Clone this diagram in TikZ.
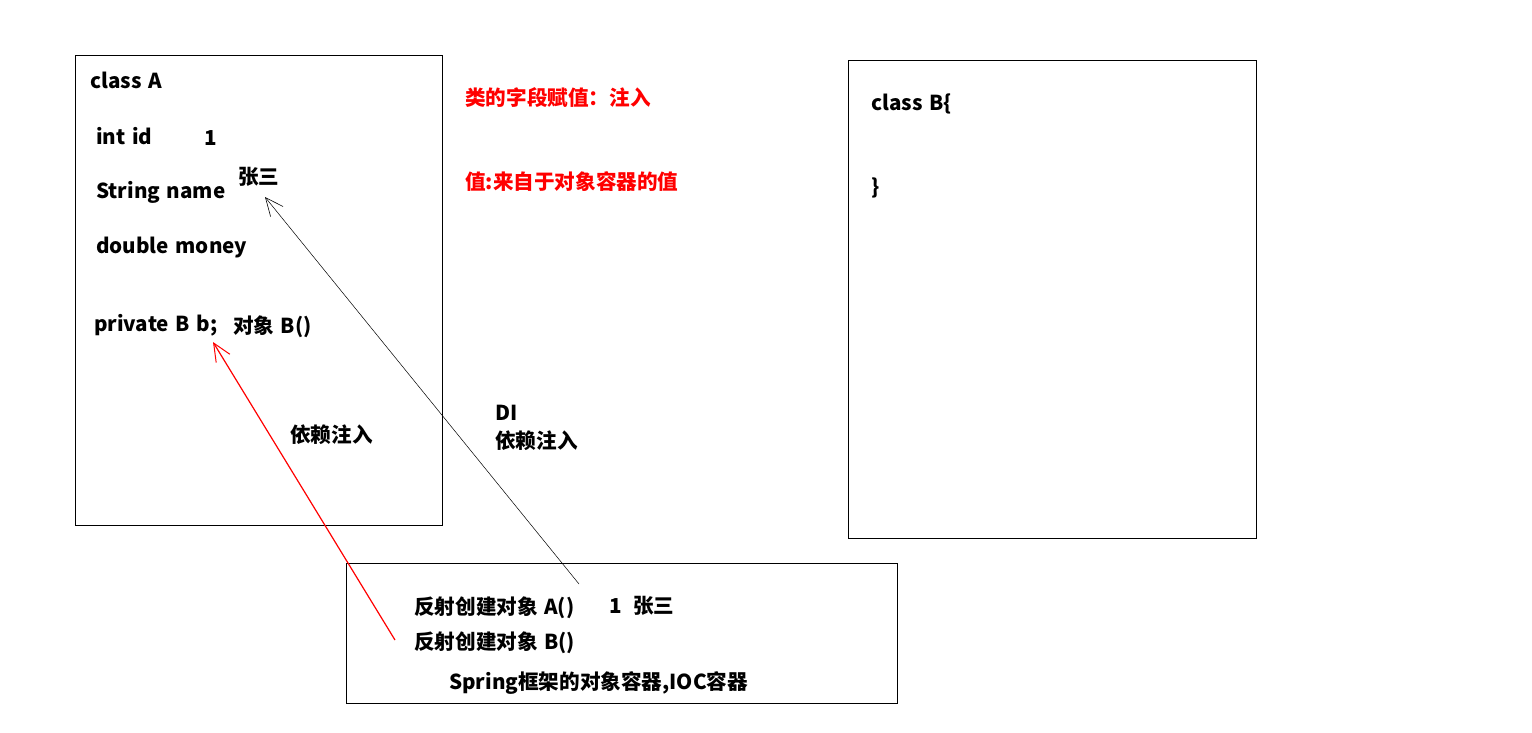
\documentclass[tikz,border=0pt]{standalone}
\usepackage{fontspec}
\setmainfont{Noto Sans CJK SC}[WordSpace={1.4}]
\usepackage{tikz}
\usetikzlibrary{positioning}
\usetikzlibrary{arrows.meta}
\definecolor{inkred}{RGB}{255,0,0}
\tikzset{
	x=1pt, y=-1pt,
	every node/.style={anchor=west,inner sep=0pt,font=\fontsize{20.6}{24}\selectfont\bfseries},
	box/.style={draw, line width=0.8pt},
	note/.style={text=inkred},
	inject/.style={-{Straight Barb[length=18pt,width=16pt,line width=0.6pt]}, line width=0.5pt},
	injectred/.style={-{Straight Barb[length=18pt,width=16pt,line width=1pt]}, inkred, line width=1.2pt}
}

\begin{document}
\begin{tikzpicture}
			% Frame
			\useasboundingbox (0,0) rectangle (1532,732);
			
			% Boxes
			\draw[box] (75,55) rectangle (442,525);
			\draw[box] (848,60) rectangle (1256,538);
			\draw[box] (346,563) rectangle (897,703);
			
			% class A
			\node (classa) at (90,80) {class A};
			\node (id) at (96,136) {int id};
			\node (idval) at (204,138) {1};
			\node (name) at (96,192) {String name};
			\node (nameval) at (238,177) {张三};
			\node (money) at (96,248) {double money};
			\node (fieldb) at (94,325) {private B b;};
			\node (objb) at (233,327) {对象 B()};
			\node (di1) at (290,435) {依赖注入};
			\node (di) at (495,413) {DI};
			\node (di2) at (495,441) {依赖注入};
			
			% notes
			\node (note1) [note] at (465,98) {类的字段赋值：注入};
			\node (note2) [note] at (465,182) {值:来自于对象容器的值};
			
			% class B
			\node (classb) at (871,104) {class B\{};
			\node (closeb) at (871,188) {\}};
			
			% container
			\node (makea) at (414,608) {反射创建对象 A()};
			\node (vala) at (609,606) {1};
			\node (valname) at (633,606) {张三};
			\node (makeb) at (414,643) {反射创建对象 B()};
			\node (ioc) at (449,683) {Spring框架的对象容器,IOC容器};
			
			\coordinate (tipname) at (265,197);
			\coordinate (tipb) at (213,342);
			\coordinate (froma) at (579,584);
			\coordinate (fromb) at (395,640);
			
			\draw[inject] (froma) -- (tipname);
			\draw[injectred] (fromb) -- (tipb);
			
		\end{tikzpicture}
\end{document}
